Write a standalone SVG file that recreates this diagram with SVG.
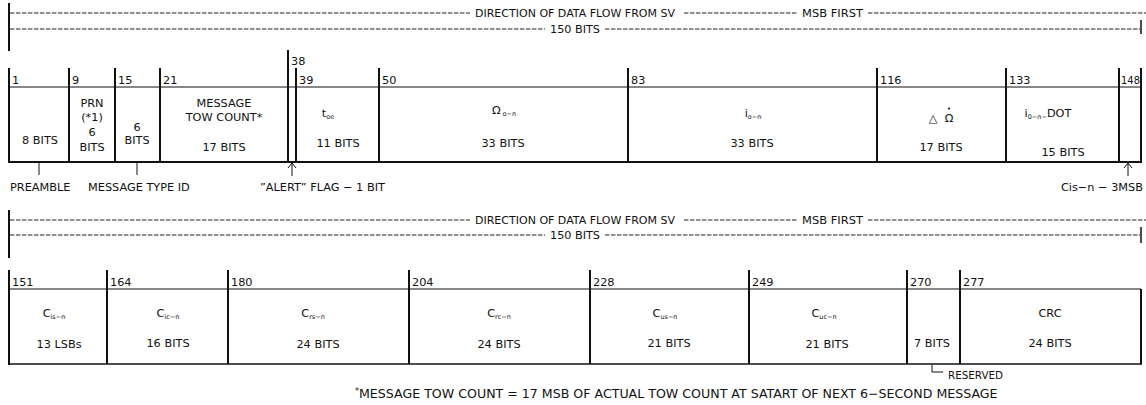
<svg xmlns="http://www.w3.org/2000/svg" width="1146" height="405" viewBox="0 0 1146 405">
<style>
text{font-family:"DejaVu Sans","Liberation Sans",sans-serif;font-size:11.3px;fill:#111}
.c{text-anchor:middle}
.s{font-size:6.5px}
.d{stroke:#222;stroke-width:1;stroke-dasharray:4.5 1.5;fill:none}
.t{stroke:#111;stroke-width:2;fill:none}
.v{stroke:#111;stroke-width:1.5;fill:none}
.h{stroke:#111;stroke-width:1;fill:none}
.hb{stroke:#111;stroke-width:2;fill:none}
</style>
<defs>
<marker id="up" viewBox="0 0 10 10" refX="9" refY="5" markerWidth="10" markerHeight="10" markerUnits="userSpaceOnUse" orient="auto-start-reverse">
<path d="M4,1 L9,5 L4,9" fill="none" stroke="#111" stroke-width="1"/>
</marker>
</defs>

<g id="header1">
<line class="t" x1="9" y1="3" x2="9" y2="51"/>
<path class="d" d="M10,13H470M684,13H797M868,13H1146"/>
<path class="d" d="M10,29H545M605,29H1140"/>
<line class="v" x1="1141" y1="20" x2="1141" y2="34"/>
<text x="475" y="17" textLength="200" lengthAdjust="spacingAndGlyphs">DIRECTION OF DATA FLOW FROM SV</text>
<text x="802" y="17" textLength="61" lengthAdjust="spacingAndGlyphs">MSB FIRST</text>
<text x="550" y="33" textLength="50" lengthAdjust="spacingAndGlyphs">150 BITS</text>
</g>

<g id="row1-frame">
<line class="h" x1="9" y1="87" x2="1141" y2="87"/>
<line class="hb" x1="9" y1="162" x2="1142" y2="162"/>
<path class="t" d="M9,68V163M69,68V162M115,68V162M160,68V162M288,50V162M296,68V162M379,68V162M628,68V162M877,68V162M1006,68V162M1119,68V162M1141,68V162"/>
<text x="12" y="84">1</text>
<text x="72" y="84">9</text>
<text x="118" y="84">15</text>
<text x="163" y="84">21</text>
<text x="291" y="65">38</text>
<text x="299" y="84">39</text>
<text x="382" y="84">50</text>
<text x="631" y="84">83</text>
<text x="880" y="84">116</text>
<text x="1009" y="84">133</text>
<text x="1121" y="84" textLength="19" lengthAdjust="spacingAndGlyphs">148</text>
</g>

<g id="preamble"><text class="c" x="40" y="144">8 BITS</text></g>
<g id="prn">
<text class="c" x="92" y="107">PRN</text>
<text class="c" x="92" y="121">(*1)</text>
<text class="c" x="92" y="136">6</text>
<text class="c" x="92" y="151">BITS</text>
</g>
<g id="msgtype">
<text class="c" x="137" y="131">6</text>
<text class="c" x="137" y="144">BITS</text>
</g>
<g id="tow">
<text class="c" x="224" y="107">MESSAGE</text>
<text class="c" x="224" y="121">TOW COUNT*</text>
<text class="c" x="224" y="151">17 BITS</text>
</g>
<g id="toe">
<text class="c" x="328" y="117">t<tspan class="s" dy="2">oe</tspan></text>
<text class="c" x="338" y="147">11 BITS</text>
</g>
<g id="omega">
<text class="c" x="504" y="114">Ω<tspan class="s" dx="2" dy="2">o−n</tspan></text>
<text class="c" x="503" y="147">33 BITS</text>
</g>
<g id="incl">
<text class="c" x="753" y="117">i<tspan class="s" dy="2">o−n</tspan></text>
<text class="c" x="752" y="147">33 BITS</text>
</g>
<g id="omegadot">
<text class="c" x="933" y="122">△</text>
<text class="c" x="949" y="122">Ω</text>
<circle cx="949" cy="108.5" r="1.1" fill="#111"/>
<text class="c" x="941" y="151">17 BITS</text>
</g>
<g id="idot">
<text class="c" x="1048" y="117">i<tspan class="s" dy="2">0−n−</tspan><tspan dy="-2">DOT</tspan></text>
<text class="c" x="1063" y="156">15 BITS</text>
</g>

<g id="connectors">
<path class="h" d="M39,163V175M137,163V175"/>
<line class="h" x1="292" y1="163" x2="292" y2="176" marker-start="url(#up)"/>
<line class="h" x1="1128" y1="163" x2="1128" y2="176" marker-start="url(#up)"/>
<path class="h" d="M932,365V372H943"/>
</g>

<g id="labels1">
<text x="10" y="191">PREAMBLE</text>
<text x="88" y="191">MESSAGE TYPE ID</text>
<text x="260" y="191">”ALERT” FLAG − 1 BIT</text>
<text x="1143" y="191" text-anchor="end">Cis−n − 3MSB</text>
</g>

<g id="header2">
<line class="t" x1="9" y1="210" x2="9" y2="258"/>
<path class="d" d="M10,220H470M684,220H797M868,220H1146"/>
<path class="d" d="M10,235H545M605,235H1140"/>
<line class="v" x1="1141" y1="227" x2="1141" y2="243"/>
<text x="475" y="224" textLength="200" lengthAdjust="spacingAndGlyphs">DIRECTION OF DATA FLOW FROM SV</text>
<text x="802" y="224" textLength="61" lengthAdjust="spacingAndGlyphs">MSB FIRST</text>
<text x="550" y="239" textLength="50" lengthAdjust="spacingAndGlyphs">150 BITS</text>
</g>

<g id="row2-frame">
<line class="h" x1="9" y1="289" x2="1141" y2="289"/>
<line class="v" x1="9" y1="364" x2="1142" y2="364"/>
<path class="t" d="M9,270V365M107,270V364M228,270V364M409,270V364M590,270V364M749,270V364M907,270V364M960,270V364M1141,289V364"/>
<text x="12" y="286">151</text>
<text x="110" y="286">164</text>
<text x="231" y="286">180</text>
<text x="412" y="286">204</text>
<text x="593" y="286">228</text>
<text x="752" y="286">249</text>
<text x="910" y="286">270</text>
<text x="963" y="286">277</text>
</g>

<g id="cis">
<text class="c" x="54" y="317">C<tspan class="s" dy="2">is−n</tspan></text>
<text class="c" x="59" y="348">13 LSBs</text>
</g>
<g id="cic">
<text class="c" x="168" y="317">C<tspan class="s" dy="2">ic−n</tspan></text>
<text class="c" x="168" y="347">16 BITS</text>
</g>
<g id="crs">
<text class="c" x="313" y="317">C<tspan class="s" dy="2">rs−n</tspan></text>
<text class="c" x="318" y="348">24 BITS</text>
</g>
<g id="crc-n">
<text class="c" x="499" y="317">C<tspan class="s" dy="2">rc−n</tspan></text>
<text class="c" x="499" y="348">24 BITS</text>
</g>
<g id="cus">
<text class="c" x="665" y="317">C<tspan class="s" dy="2">us−n</tspan></text>
<text class="c" x="669" y="347">21 BITS</text>
</g>
<g id="cuc">
<text class="c" x="824" y="317">C<tspan class="s" dy="2">uc−n</tspan></text>
<text class="c" x="827" y="348">21 BITS</text>
</g>
<g id="reserved">
<text class="c" x="932" y="347">7 BITS</text>
</g>
<g id="crc">
<text class="c" x="1050" y="317">CRC</text>
<text class="c" x="1050" y="347">24 BITS</text>
</g>

<g id="notes">
<text x="948" y="379" textLength="55" lengthAdjust="spacingAndGlyphs">RESERVED</text>
<text x="355" y="398" style="font-size:12.6px"><tspan font-size="8" dy="-4">*</tspan><tspan dy="4">MESSAGE TOW COUNT = 17 MSB OF ACTUAL TOW COUNT AT SATART OF NEXT 6−SECOND MESSAGE</tspan></text>
</g>
</svg>
